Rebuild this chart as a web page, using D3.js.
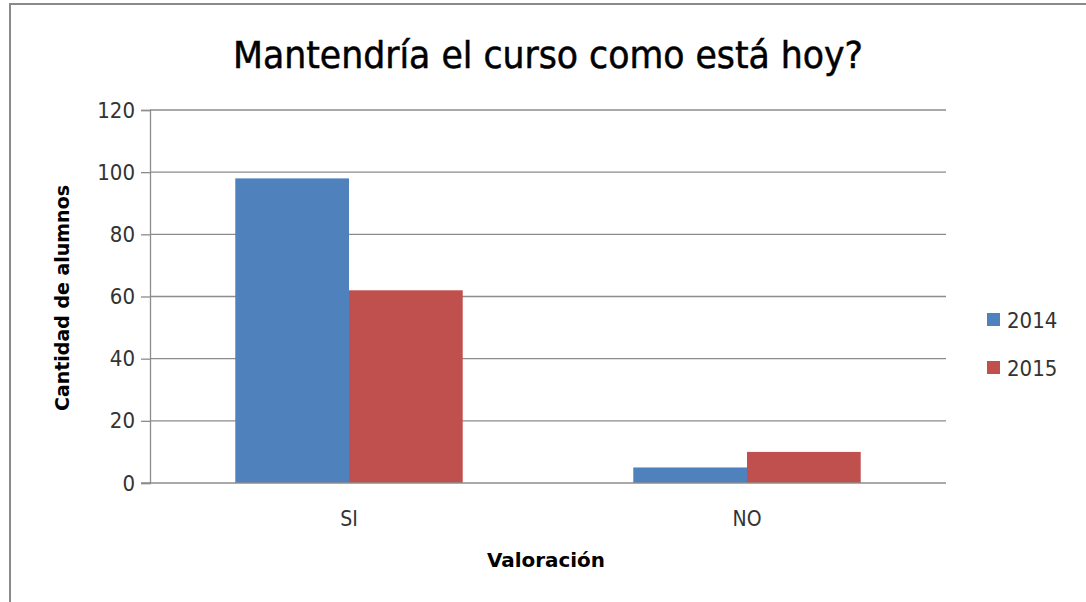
<!DOCTYPE html>
<html>
<head>
<meta charset="utf-8">
<script src="https://cdn.jsdelivr.net/npm/d3@7"></script>
<style>
  html, body { margin: 0; padding: 0; background: #fff; }
  svg { display: block; }
  text { font-family: "Liberation Sans Narrow", "DejaVu Sans Condensed", "Liberation Sans", sans-serif; }
</style>
</head>
<body>
<svg id="chart" width="1086" height="602"></svg>
<script>
// ---- data ----
const categories = ["SI", "NO"];
const seriesNames = ["2014", "2015"];
const values2014 = [98, 5];
const values2015 = [62, 10];
const yTicks = [0, 20, 40, 60, 80, 100, 120];
const titleText = "Mantendría el curso como está hoy?";
const yTitle = "Cantidad de alumnos";
const xTitle = "Valoración";
const colors = ["#4F81BD", "#C0504D"];

const series = [values2014, values2015];

const svg = d3.select("#chart");

// outer chart border
svg.append("rect")
  .attr("x", 10).attr("y", 4)
  .attr("width", 1200).attr("height", 700)
  .attr("fill", "#fff")
  .attr("stroke", "#8a8a8a").attr("stroke-width", 2);

const plot = { left: 150, right: 946, top: 110, bottom: 483 };

const x0 = d3.scaleBand().domain(categories).range([plot.left, plot.right]).paddingInner(0).paddingOuter(0);
const x1 = d3.scaleBand().domain(seriesNames).range([0, x0.bandwidth()]).paddingInner(0).paddingOuter(0.75);
const y = d3.scaleLinear().domain([0, 120]).range([plot.bottom, plot.top]);

// gridlines
svg.append("g").selectAll("line").data(yTicks.filter(d => d > 0)).join("line")
  .attr("x1", plot.left).attr("x2", plot.right)
  .attr("y1", d => y(d)).attr("y2", d => y(d))
  .attr("stroke", "#8c8c8c").attr("stroke-width", 1.3);

// bars
const groups = svg.append("g").selectAll("g").data(categories).join("g")
  .attr("transform", d => `translate(${x0(d)},0)`);
groups.selectAll("rect").data((d, i) => seriesNames.map((s, j) => ({ s, v: series[j][i], j })))
  .join("rect")
  .attr("x", d => x1(d.s))
  .attr("width", x1.bandwidth())
  .attr("y", d => y(d.v))
  .attr("height", d => y(0) - y(d.v))
  .attr("fill", d => colors[d.j]);

// y axis
const yAxis = d3.axisLeft(y).tickValues(yTicks).tickSize(9).tickPadding(6);
const gy = svg.append("g").attr("transform", `translate(${plot.left},0)`).call(yAxis);
gy.select(".domain").attr("stroke", "#8c8c8c").attr("stroke-width", 1.3);
gy.selectAll(".tick line").attr("stroke", "#8c8c8c").attr("stroke-width", 1.3);
gy.selectAll(".tick text").attr("font-size", 22).attr("fill", "#333")
  .style("font-family", '"Liberation Sans Narrow", "DejaVu Sans Condensed", sans-serif');

// x axis
const xAxis = d3.axisBottom(x0).tickSize(0).tickPadding(28);
const gx = svg.append("g").attr("transform", `translate(0,${plot.bottom})`).call(xAxis);
gx.select(".domain").attr("stroke", "#8c8c8c").attr("stroke-width", 1.3).attr("d", `M${plot.left - 9},0H${plot.right}`);
gx.selectAll(".tick text").attr("font-size", 21).attr("fill", "#333")
  .style("font-family", '"Liberation Sans Narrow", "DejaVu Sans Condensed", sans-serif');

// title
svg.append("text")
  .attr("x", 548).attr("y", 68)
  .attr("text-anchor", "middle")
  .attr("font-size", 38)
  .attr("font-weight", 500)
  .attr("textLength", 630).attr("lengthAdjust", "spacingAndGlyphs")
  .attr("fill", "#000")
  .style("stroke", "#000").style("stroke-width", 0.5)
  .text(titleText);

// axis titles
svg.append("text")
  .attr("transform", "translate(69,298) rotate(-90)")
  .attr("text-anchor", "middle")
  .attr("font-size", 20).attr("font-weight", "bold").attr("fill", "#000")
  .attr("textLength", 226).attr("lengthAdjust", "spacingAndGlyphs")
  .text(yTitle);

svg.append("text")
  .attr("x", 546).attr("y", 567)
  .attr("text-anchor", "middle")
  .attr("font-size", 20).attr("font-weight", "bold").attr("fill", "#000")
  .attr("textLength", 118).attr("lengthAdjust", "spacingAndGlyphs")
  .text(xTitle);

// legend
const legend = svg.append("g").selectAll("g").data(seriesNames).join("g")
  .attr("transform", (d, i) => `translate(987,${313 + i * 48})`);
legend.append("rect").attr("width", 13).attr("height", 13).attr("fill", (d, i) => colors[i]);
legend.append("text").attr("x", 20).attr("y", 15).attr("font-size", 22).attr("fill", "#333").text(d => d);
</script>
</body>
</html>
